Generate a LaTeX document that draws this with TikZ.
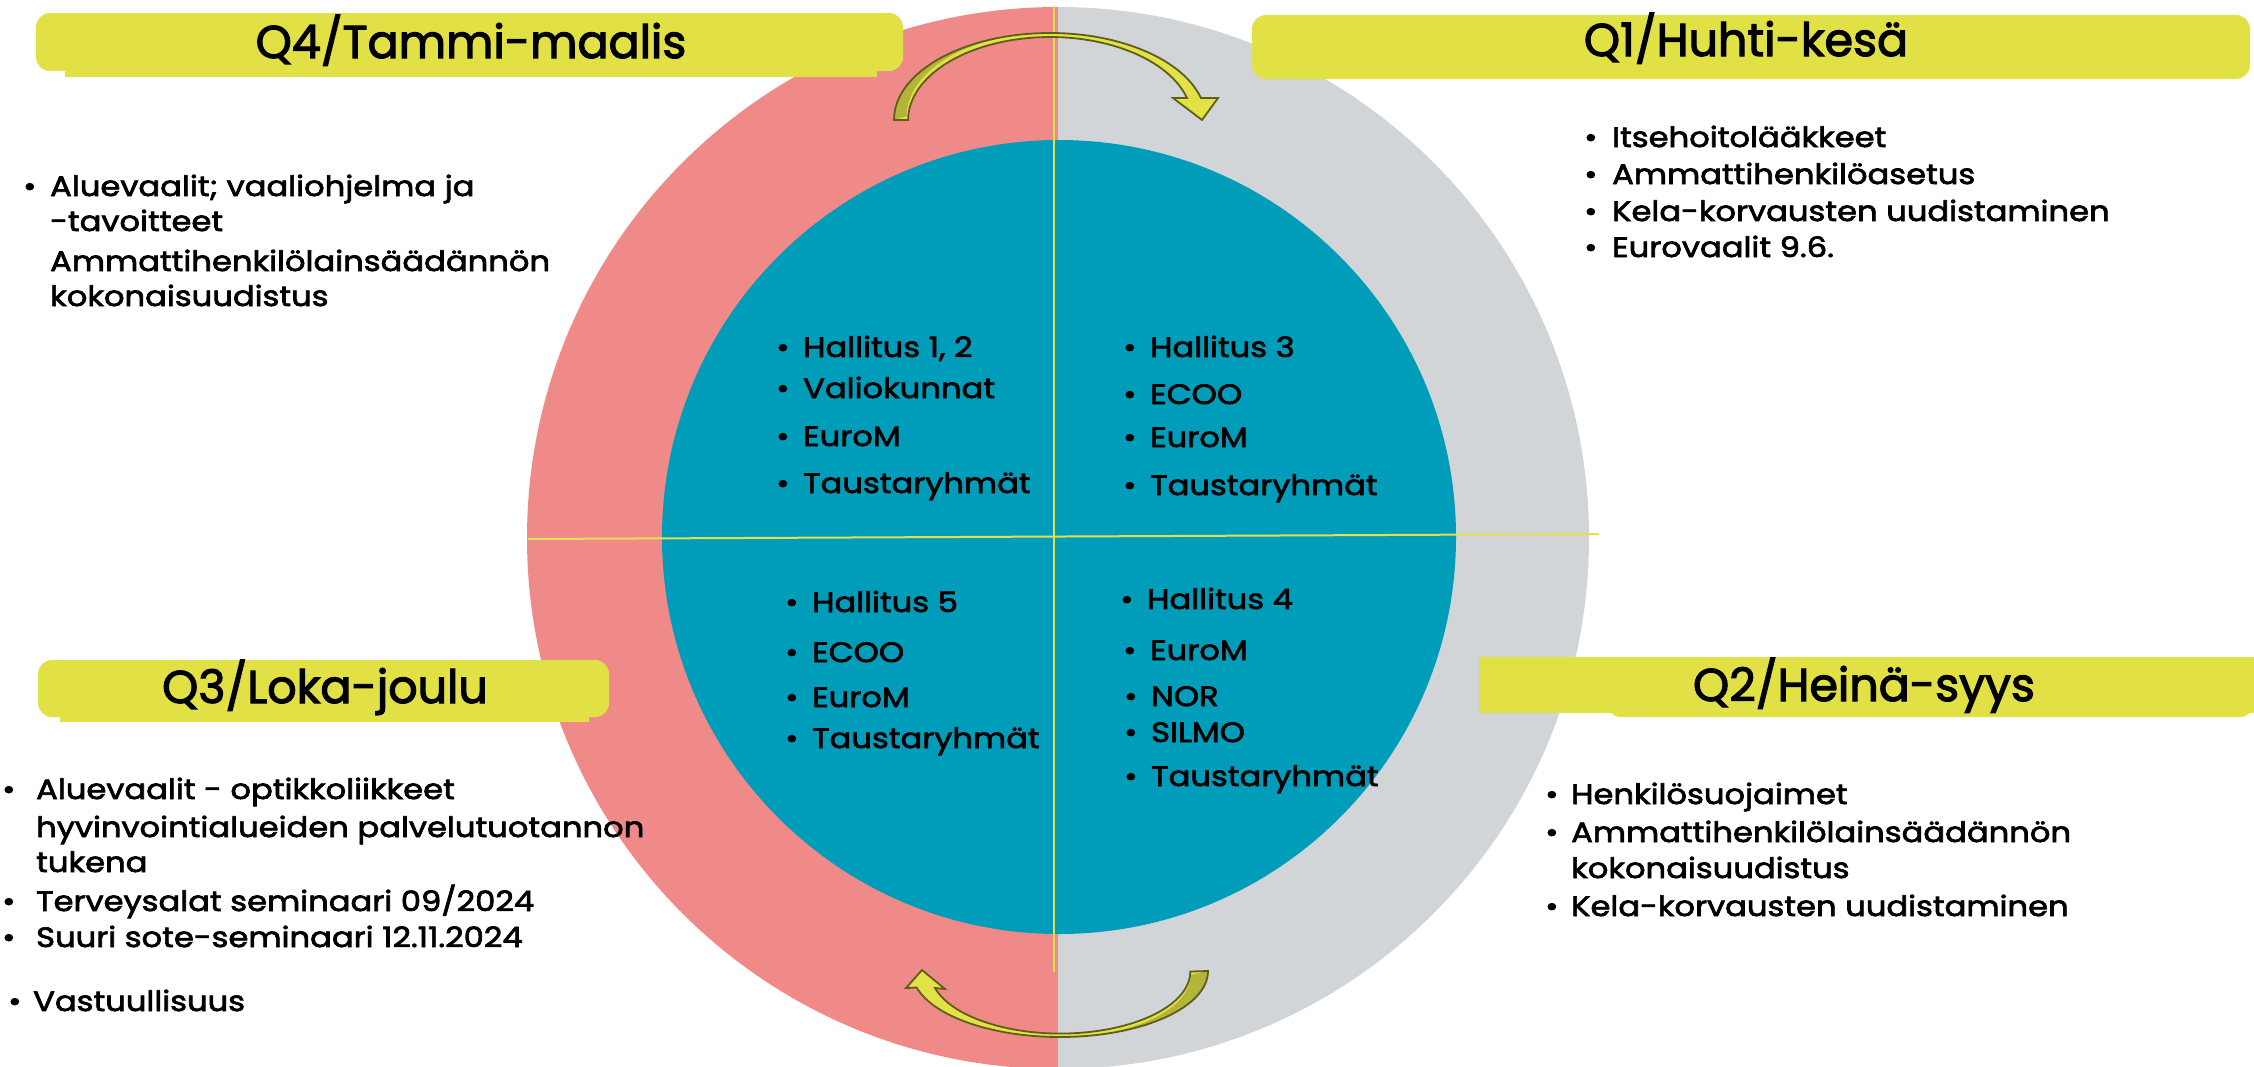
\documentclass[tikz,border=0pt]{standalone}
\usepackage{fontspec}
\setmainfont{Poppins}[FakeStretch=1.15,FakeBold=2.5]
\newfontfamily\banfont{Poppins}[FakeBold=2.5]
\definecolor{pinkc}{HTML}{F08A89}
\definecolor{grayc}{HTML}{D1D5D8}
\definecolor{tealc}{HTML}{009DBB}
\definecolor{bannery}{HTML}{E1E044}
\definecolor{liney}{HTML}{E3E050}
\definecolor{olivef}{HTML}{B4B43A}
\definecolor{arrowy}{HTML}{E2E246}
\definecolor{arrowol}{HTML}{5E5E1A}
\newcommand\bul[1][28pt]{\llap{\makebox[#1][l]{•}}}
\begin{document}
\begin{tikzpicture}[x=1pt,y=1pt,
  item/.style={anchor=base west, inner sep=0pt, font=\fontsize{28}{32}\selectfont},
  banner/.style={fill=bannery, rounded corners=14pt},
  bantext/.style={anchor=base, inner sep=0pt, font=\banfont\fontsize{46}{50}\selectfont},
  arrowline/.style={draw=arrowol, line width=1.8pt, line join=miter}
]
\useasboundingbox (0,0) rectangle (2254,-1066);
\fill[white] (0,0) rectangle (2254,-1066);
% outer ring halves
\begin{scope}
\clip (0,0) rectangle (2254,-1066);
\fill[pinkc] (1058,-7) arc[start angle=90,end angle=270,radius=531] -- cycle;
\fill[grayc] (1058,-1069) arc[start angle=-90,end angle=90,radius=531] -- cycle;
\end{scope}
% inner circle
\fill[tealc] (1059,-537) circle[radius=397];
% cross lines
\coordinate (vtop) at (1054,-6);
\coordinate (vbot) at (1054,-972);
\coordinate (hl) at (528,-539);
\coordinate (hr) at (1599,-534);
\draw[liney, line width=1.5pt] (vtop) -- (vbot);
\draw[liney, line width=2pt] (hl) -- (hr);
% top curved arrow
\path[fill=arrowy] (894,-120) arc[start angle=180,end angle=14.6,x radius=156,y radius=87]
  -- (1218,-98) -- (1202,-120) -- (1173,-98) -- (1187,-98)
  arc[start angle=15.4,end angle=180,x radius=142,y radius=83] -- cycle;
\path[fill=olivef] (894,-120) arc[start angle=180,end angle=95,x radius=156,y radius=87]
  arc[start angle=95,end angle=180,x radius=142,y radius=83] -- cycle;
\path[arrowline] (894,-120) arc[start angle=180,end angle=14.6,x radius=156,y radius=87]
  -- (1218,-98) -- (1202,-120) -- (1173,-98) -- (1187,-98)
  arc[start angle=15.4,end angle=180,x radius=142,y radius=83] -- cycle;
% bottom curved arrow
\path[fill=arrowy] (1208,-971) arc[start angle=360,end angle=194.5,x radius=148,y radius=66]
  -- (906,-988) -- (922,-970) -- (945,-989) -- (935,-988)
  arc[start angle=195.4,end angle=360,x radius=130,y radius=62] -- cycle;
\path[fill=olivef] (1208,-971) arc[start angle=360,end angle=272,x radius=148,y radius=66]
  arc[start angle=272,end angle=360,x radius=130,y radius=62] -- cycle;
\path[arrowline] (1208,-971) arc[start angle=360,end angle=194.5,x radius=148,y radius=66]
  -- (906,-988) -- (922,-970) -- (945,-989) -- (935,-988)
  arc[start angle=195.4,end angle=360,x radius=130,y radius=62] -- cycle;
% banners
\fill[bannery] (65,-55) rectangle (877,-77);
\path[banner] (36,-13) rectangle (903,-71);
\path[banner] (1252,-15) rectangle (2250,-79);
\fill[bannery] (60,-700) rectangle (589,-722);
\path[banner] (38,-660) rectangle (609,-717);
\path[banner] (1607,-690) rectangle (2254,-717);
\fill[bannery] (1479,-657) rectangle (2254,-713);
\node[bantext] (q4) at (471,-58) {Q4/Tammi-maalis};
\node[bantext] (q1) at (1746,-56) {Q1/Huhti-kesä};
\node[bantext] (q3) at (325,-703) {Q3/Loka-joulu};
\node[bantext] (q2) at (1864,-701) {Q2/Heinä-syys};
% Q4 list
\node[item] (a1) at (50,-196) {\bul[27pt]Aluevaalit; vaaliohjelma ja};
\node[item] (a2) at (50,-231) {-tavoitteet};
\node[item] (a3) at (50,-271) {Ammattihenkilölainsäädännön};
\node[item] (a4) at (50,-306) {kokonaisuudistus};
% Q1 list
\node[item] (b1) at (1612,-147) {\bul Itsehoitolääkkeet};
\node[item] (b2) at (1612,-184) {\bul Ammattihenkilöasetus};
\node[item] (b3) at (1612,-221) {\bul Kela-korvausten uudistaminen};
\node[item] (b4) at (1612,-257) {\bul Eurovaalit 9.6.};
% Q3 list
\node[item] (c1) at (36,-799) {\bul[34pt]Aluevaalit - optikkoliikkeet};
\node[item] (c2) at (36,-837) {hyvinvointialueiden palvelutuotannon};
\node[item] (c3) at (36,-872) {tukena};
\node[item] (c4) at (36,-911) {\bul[34pt]Terveysalat seminaari 09/2024};
\node[item] (c5) at (36,-947) {\bul[34pt]Suuri sote-seminaari 12.11.2024};
\node[item] (c6) at (33,-1011) {\bul[25pt]Vastuullisuus};
% Q2 list
\node[item] (d1) at (1571,-804) {\bul[26pt]Henkilösuojaimet};
\node[item] (d2) at (1571,-842) {\bul[26pt]Ammattihenkilölainsäädännön};
\node[item] (d3) at (1571,-878) {kokonaisuudistus};
\node[item] (d4) at (1571,-916) {\bul[26pt]Kela-korvausten uudistaminen};
% inner top-left
\node[item] (e1) at (803,-357) {\bul[27pt]Hallitus 1, 2};
\node[item] (e2) at (803,-398) {\bul[27pt]Valiokunnat};
\node[item] (e3) at (803,-446) {\bul[27pt]EuroM};
\node[item] (e4) at (803,-493) {\bul[27pt]Taustaryhmät};
% inner top-right
\node[item] (f1) at (1150,-357) {\bul[27pt]Hallitus 3};
\node[item] (f2) at (1150,-404) {\bul[27pt]ECOO};
\node[item] (f3) at (1150,-447) {\bul[27pt]EuroM};
\node[item] (f4) at (1150,-495) {\bul[27pt]Taustaryhmät};
% inner bottom-left
\node[item] (g1) at (812,-612) {\bul[27pt]Hallitus 5};
\node[item] (g2) at (812,-662) {\bul[27pt]ECOO};
\node[item] (g3) at (812,-707) {\bul[27pt]EuroM};
\node[item] (g4) at (812,-748) {\bul[27pt]Taustaryhmät};
% inner bottom-right
\node[item] (h1) at (1147,-609) {\bul[27pt]Hallitus 4};
\node[item] (h2) at (1150,-660) {\bul[27pt]EuroM};
\node[item] (h3) at (1151,-706) {\bul[27pt]NOR};
\node[item] (h4) at (1151,-742) {\bul[27pt]SILMO};
\node[item] (h5) at (1151,-786) {\bul[27pt]Taustaryhmät};
\end{tikzpicture}
\end{document}
